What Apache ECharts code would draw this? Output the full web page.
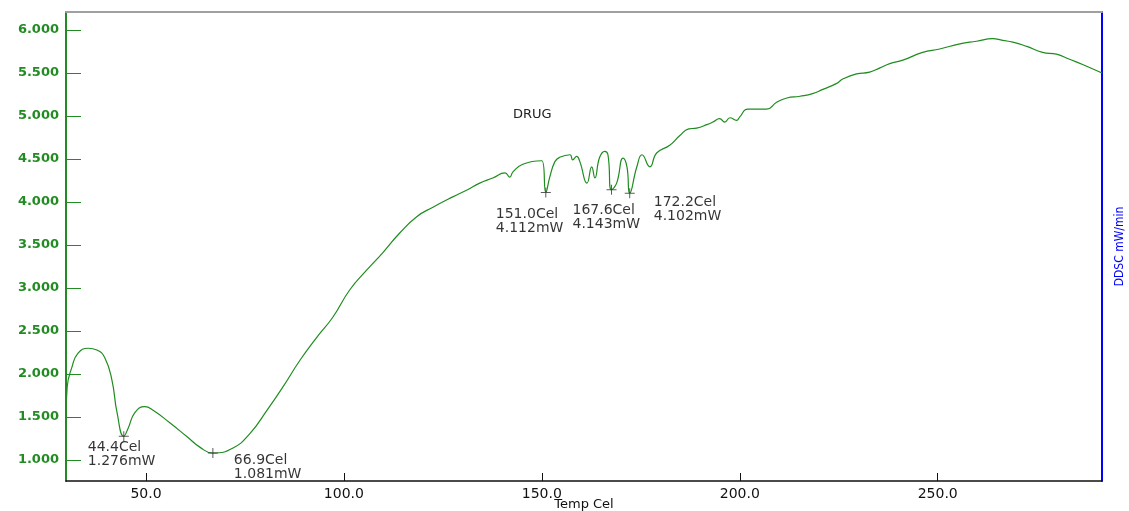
<!DOCTYPE html>
<html>
<head>
    <meta charset="utf-8">
    <title>DSC - DRUG</title>
    <script src="https://cdn.jsdelivr.net/npm/echarts@6/dist/echarts.min.js"></script>
    <style>
        html, body { margin: 0; padding: 0; background: #fff; }
    </style>
</head>
<body>
    <div id="main" style="width: 1129px;height:511px;"></div>
    <script type="text/javascript">
// curve (Temp Cel, mW)
var temps = [29.8, 30.1, 31.3, 32.8, 35.4, 37.6, 39.6, 41.4, 42.7, 44.4, 45.5, 47.2, 49.7, 51.8, 56.1, 60.4, 63.6, 66.9,
    72.0, 76.3, 80.6, 84.6, 88.9, 93.2, 97.2, 101.5, 105.8, 109.8, 114.1, 118.4, 122.5, 127.5, 131.1, 134.3, 137.6,
    140.7, 141.9, 142.7, 145.2, 150.0, 151.0, 152.0, 153.3, 154.5, 157.1, 157.8, 158.8, 159.6, 161.4, 162.6, 163.4,
    164.6, 165.9, 166.7, 167.6, 168.9, 170.5, 171.5, 172.2, 174.0, 175.3, 177.3, 179.0, 182.3, 184.8, 187.1, 189.1,
    191.7, 193.2, 194.9, 196.2, 197.5, 199.2, 200.0, 202.0, 206.8, 209.3, 211.9, 215.2, 218.4, 221.0, 224.5, 226.0,
    229.5, 232.8, 235.4, 237.9, 241.2, 246.2, 250.5, 255.6, 259.8, 263.9, 266.4, 269.0, 272.5, 276.5, 280.0, 283.3,
    286.6, 291.5];
var heat = [1.50, 1.85, 2.08, 2.24, 2.30, 2.28, 2.19, 1.93, 1.55, 1.276, 1.37, 1.55, 1.62, 1.58, 1.43, 1.27, 1.15, 1.081,
    1.14, 1.31, 1.58, 1.85, 2.16, 2.43, 2.66, 2.98, 3.21, 3.41, 3.64, 3.83, 3.94, 4.06, 4.14, 4.22, 4.28,
    4.34, 4.29, 4.35, 4.44, 4.48, 4.112, 4.29, 4.47, 4.52, 4.55, 4.49, 4.53, 4.47, 4.22, 4.41, 4.28,
    4.52, 4.59, 4.55, 4.143, 4.22, 4.51, 4.41, 4.102, 4.41, 4.55, 4.41, 4.57, 4.66, 4.77, 4.85, 4.86,
    4.90, 4.93, 4.97, 4.93, 4.98, 4.95, 4.99, 5.08, 5.08, 5.16, 5.21, 5.23, 5.26, 5.31, 5.38, 5.43,
    5.49, 5.51, 5.56, 5.61, 5.65, 5.74, 5.78, 5.84, 5.87, 5.90, 5.88, 5.86, 5.81, 5.74, 5.72, 5.66,
    5.60, 5.50];

// marked peaks
var peakTemps = [44.4, 66.9, 151.0, 167.6, 172.2];
var peakHeat = [1.276, 1.081, 4.112, 4.143, 4.102];

// axis ticks
var xTicks = [50, 100, 150, 200, 250];
var yTicks = [1.0, 1.5, 2.0, 2.5, 3.0, 3.5, 4.0, 4.5, 5.0, 5.5, 6.0];

// where each peak label sits, relative to its marker (px)
var labelOffsets = [[-36, 4], [21, 0], [-50, 15], [-39, 14], [24, 2]];

var curve = temps.map(function (t, i) { return [t, heat[i]]; });
var peaks = peakTemps.map(function (t, i) {
    return {
        value: [t, peakHeat[i]],
        label: { position: [labelOffsets[i][0] + 5, labelOffsets[i][1] + 5] }
    };
});

var green = '#228b22';
var myChart = echarts.init(document.getElementById('main'));
var option = {
    animation: false,
    title: {
        text: 'DRUG', left: 508, top: 103,
        textStyle: { fontFamily: 'DejaVu Sans', fontSize: 13, fontWeight: 'normal', color: '#222' }
    },
    grid: { left: 66, right: 27, top: 12, bottom: 30, containLabel: false, outerBoundsMode: 'none' },
    xAxis: [
        {
            type: 'value', min: 29.8, max: 291.5, position: 'bottom',
            name: 'Temp Cel', nameLocation: 'middle', nameGap: 17, nameMoveOverlap: false,
            nameTextStyle: { fontFamily: 'DejaVu Sans', fontSize: 13, color: '#111', verticalAlign: 'top' },
            axisLine: { onZero: false, lineStyle: { color: '#111', width: 1.5 } },
            axisTick: { inside: true, length: 8, customValues: xTicks, lineStyle: { color: '#111' } },
            axisLabel: {
                customValues: xTicks, margin: 6, color: '#111', fontFamily: 'DejaVu Sans', fontSize: 14,
                formatter: function (v) { return v.toFixed(1); }
            },
            splitLine: { show: false }
        },
        {
            type: 'value', min: 29.8, max: 291.5, position: 'top',
            axisLine: { onZero: false, lineStyle: { color: '#a0a0a0', width: 2 } },
            axisTick: { show: false }, axisLabel: { show: false }, splitLine: { show: false }
        }
    ],
    yAxis: [
        {
            type: 'value', min: 0.756, max: 6.21, position: 'left',
            axisLine: { show: true, onZero: false, lineStyle: { color: green, width: 2 } },
            axisTick: { show: true, inside: true, length: 15, customValues: yTicks, lineStyle: { color: green } },
            axisLabel: {
                customValues: yTicks, margin: 7, color: green, fontFamily: 'DejaVu Sans', fontSize: 13,
                fontWeight: 'bold', formatter: function (v) { return v.toFixed(3); }
            },
            splitLine: { show: false }
        },
        {
            type: 'value', min: 0.756, max: 6.21, position: 'right',
            name: 'DDSC mW/min', nameLocation: 'middle', nameRotate: 90, nameGap: 12,
            nameTextStyle: { color: '#0000ff', fontFamily: "'DejaVu Sans Condensed', 'Liberation Sans', sans-serif", fontSize: 12 },
            axisLine: { show: true, onZero: false, lineStyle: { color: '#0000ff', width: 2 } },
            axisTick: { show: false }, axisLabel: { show: false }, splitLine: { show: false }
        }
    ],
    series: [
        {
            type: 'line', data: curve, showSymbol: false, smooth: 0.5,
            lineStyle: { color: '#1f8c1f', width: 1.2 }, z: 2
        },
        {
            type: 'scatter', data: peaks,
            symbol: 'path://M0,4.5H10V5.5H0Z M4.5,0H5.5V10H4.5Z', symbolSize: [10, 10],
            itemStyle: { color: '#333' }, z: 3,
            label: {
                show: true, align: 'left', verticalAlign: 'top', lineHeight: 14,
                fontFamily: 'DejaVu Sans', fontSize: 14, color: '#000',
                formatter: function (p) {
                    return p.value[0].toFixed(1) + 'Cel\n' + p.value[1].toFixed(3) + 'mW';
                }
            }
        }
    ]
};
myChart.setOption(option);
    </script>
</body>
</html>
